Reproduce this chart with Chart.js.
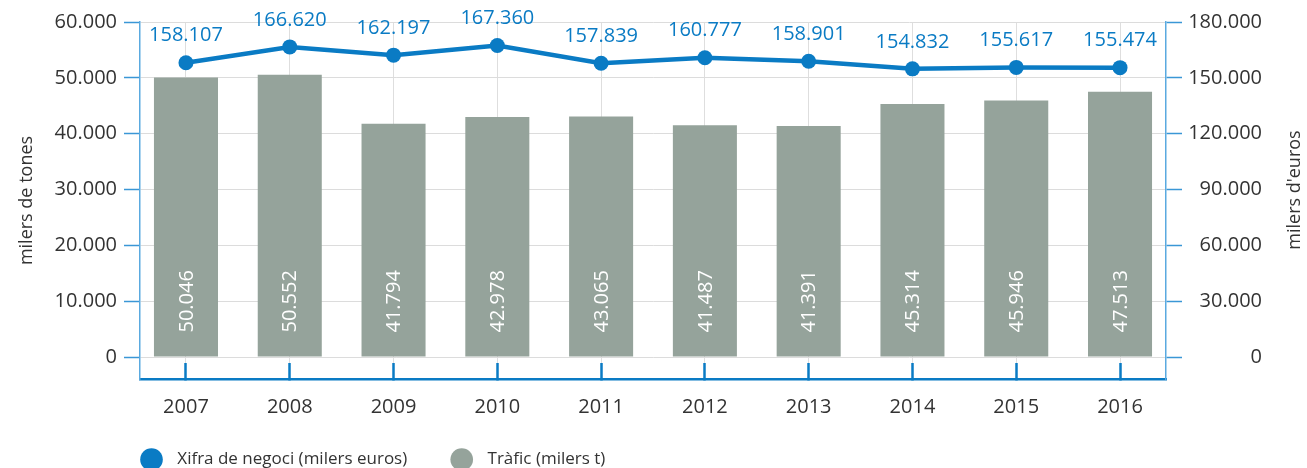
<!DOCTYPE html>
<html>
<head>
<meta charset="utf-8">
<script src="https://cdn.jsdelivr.net/npm/chart.js@4/dist/chart.umd.min.js"></script>
<style>
  html, body { margin: 0; padding: 0; background: #fff; }
  #wrap { width: 1307px; height: 468px; position: relative; }
</style>
</head>
<body>
<div id="wrap"><canvas id="portChart"></canvas></div>
<script>
const years = ['2007', '2008', '2009', '2010', '2011', '2012', '2013', '2014', '2015', '2016'];
const turnover = [158107, 166620, 162197, 167360, 157839, 160777, 158901, 154832, 155617, 155474]; // milers euros
const traffic = [50046, 50552, 41794, 42978, 43065, 41487, 41391, 45314, 45946, 47513]; // milers t
const leftTicks = [0, 10000, 20000, 30000, 40000, 50000, 60000];
const rightTicks = [0, 30000, 60000, 90000, 120000, 150000, 180000];

const BLUE = '#0a7bc4';
const GREY = '#95a39b';
const TEXT = '#333333';

Chart.defaults.font.family = "'Open Sans', sans-serif";
Chart.defaults.color = TEXT;

// thousands with a dot, as in the original
function fmt(v) {
    return String(v).replace(/\B(?=(\d{3})+(?!\d))/g, '.');
}

const LEGEND_H = 17;     // room kept for the legend row
const LEGEND_TOP = 405;  // legend row ends up centred near y=458

const tweakLayout = {
    id: 'tweakLayout',
    beforeLayout(chart) {
        const lg = chart.legend;
        if (lg && !lg._patched) {
            const fit = lg.fit;
            lg.fit = function () {
                fit.call(this);
                this.height = LEGEND_H;
            };
            lg._patched = true;
        }
    },
    afterLayout(chart) {
        // categories sit a bit closer to the axes than a half slot
        const x = chart.scales.x;
        x._startValue = -0.443;
        x._valueRange = years.length - 1 + 0.886;
        // legend starts under the left axis
        const lg = chart.legend;
        lg.left += 97;
        lg.right += 97;
        lg.top = LEGEND_TOP;
        lg.bottom = chart.height;
    }
};

const valueLabels = {
    id: 'valueLabels',
    afterDatasetsDraw(chart) {
        const ctx = chart.ctx;
        ctx.save();
        ctx.font = '20px "Open Sans"';
        ctx.fillStyle = BLUE;
        ctx.textAlign = 'center';
        ctx.textBaseline = 'middle';
        chart.getDatasetMeta(0).data.forEach((pt, i) => {
            ctx.fillText(fmt(turnover[i]), pt.x, pt.y - 27);
        });
        ctx.fillStyle = '#ffffff';
        ctx.textAlign = 'left';
        chart.getDatasetMeta(1).data.forEach((bar, i) => {
            ctx.save();
            ctx.translate(bar.x + 1, bar.base - 24);
            ctx.rotate(-Math.PI / 2);
            ctx.fillText(fmt(traffic[i]), 0, 0);
            ctx.restore();
        });
        // right axis title reads bottom to top like the left one
        ctx.fillStyle = TEXT;
        ctx.font = '18px "Open Sans"';
        ctx.textAlign = 'center';
        ctx.translate(1295, 190);
        ctx.rotate(-Math.PI / 2);
        ctx.fillText("milers d'euros", 0, 0);
        ctx.restore();
    }
};

const chart = new Chart(document.getElementById('portChart'), {
    type: 'bar',
    data: {
        labels: years,
        datasets: [
            {
                type: 'line',
                label: 'Xifra de negoci (milers euros)',
                data: turnover,
                yAxisID: 'y1',
                order: 0,
                borderColor: BLUE,
                backgroundColor: BLUE,
                borderWidth: 4.5,
                pointRadius: 7.5,
                pointHoverRadius: 7.5,
                pointBackgroundColor: BLUE,
                pointBorderWidth: 0,
                tension: 0
            },
            {
                label: 'Tràfic (milers t)',
                data: traffic,
                yAxisID: 'y',
                order: 1,
                backgroundColor: GREY,
                barPercentage: 0.617,
                categoryPercentage: 1
            }
        ]
    },
    options: {
        responsive: true,
        maintainAspectRatio: false,
        animation: false,
        layout: { padding: { top: 22, right: 45, bottom: 0, left: 0 } },
        plugins: {
            tooltip: { enabled: false },
            legend: {
                position: 'bottom',
                align: 'start',
                labels: {
                    usePointStyle: true,
                    boxHeight: 16,
                    padding: 46,
                    font: { size: 17 },
                    color: TEXT,
                    generateLabels(c) {
                        const items = Chart.defaults.plugins.legend.labels.generateLabels(c);
                        items.forEach(it => {
                            it.lineWidth = 0;
                            it.pointStyle = 'circle';
                            it.text = '  ' + it.text; // a little more air after the dot
                        });
                        return items;
                    }
                }
            }
        },
        scales: {
            x: {
                offset: true,
                grid: {
                    offset: false,
                    color: '#dedede',
                    lineWidth: 1,
                    tickColor: BLUE,
                    tickWidth: 2.5,
                    tickLength: -16
                },
                border: { color: BLUE, width: 2.5 },
                ticks: { padding: 32, font: { size: 20 }, color: TEXT }
            },
            y: {
                position: 'left',
                min: -3940,
                max: 60000,
                afterBuildTicks(scale) { scale.ticks = leftTicks.map(v => ({ value: v })); },
                afterFit(scale) { scale.width = 140; },
                grid: { color: '#dcdcdc', lineWidth: 1, tickColor: '#3a97d6', tickLength: 16, tickWidth: 1.5 },
                border: { color: '#5aaae0', width: 1.5 },
                ticks: { padding: 7, font: { size: 20 }, color: TEXT, callback: v => fmt(v) },
                title: { display: true, text: 'milers de tones', font: { size: 18 }, color: TEXT, padding: { top: 16, bottom: 0 } }
            },
            y1: {
                position: 'right',
                min: -11820,
                max: 180000,
                afterBuildTicks(scale) { scale.ticks = rightTicks.map(v => ({ value: v })); },
                afterFit(scale) { scale.width = 96; },
                grid: { drawOnChartArea: false, tickColor: '#3a97d6', tickLength: 16, tickWidth: 1.5 },
                border: { color: '#5aaae0', width: 1.5 },
                ticks: { padding: 8, crossAlign: 'far', font: { size: 20 }, color: TEXT, callback: v => fmt(v) }
            }
        }
    },
    plugins: [tweakLayout, valueLabels]
});
</script>
</body>
</html>
